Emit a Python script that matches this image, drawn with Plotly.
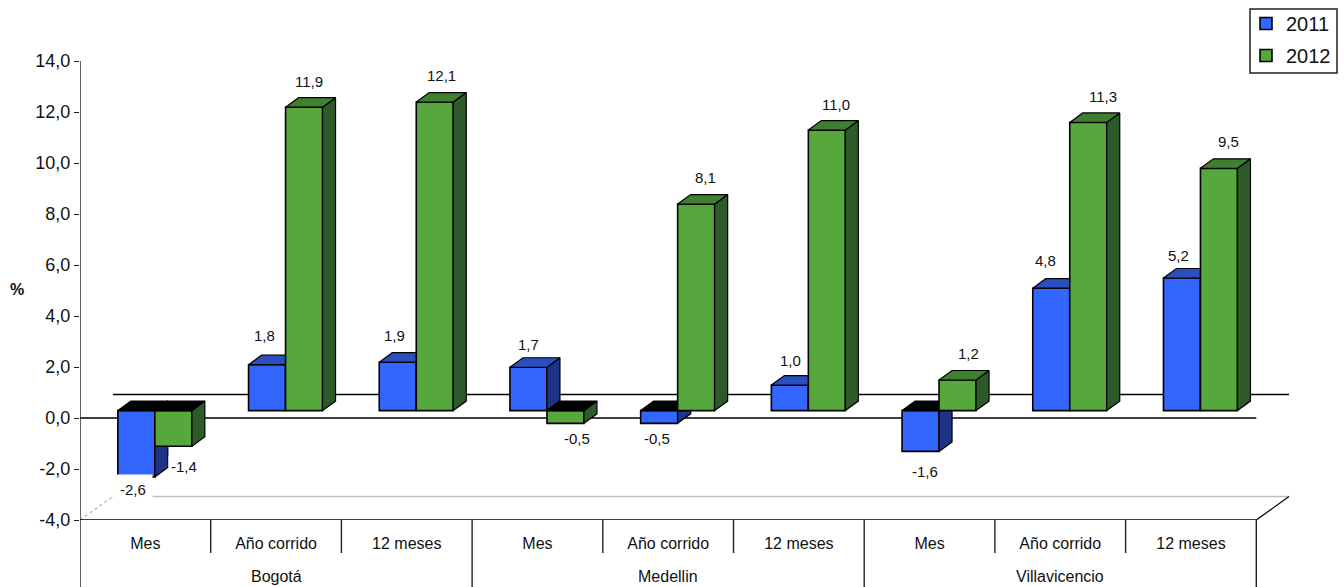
import plotly.graph_objects as go

cities = ["Bogotá", "Medellin", "Villavicencio"]
periods = ["Mes", "Año corrido", "12 meses"]
values_2011 = [-2.6, 1.8, 1.9, 1.7, -0.5, 1.0, -1.6, 4.8, 5.2]
values_2012 = [-1.4, 11.9, 12.1, -0.5, 8.1, 11.0, 1.2, 11.3, 9.5]
y_ticks = [-4, -2, 0, 2, 4, 6, 8, 10, 12, 14]

# label nudges in pixels from the top centre of each bar
dx_2011 = [-3, -3, -3, 0, -2, 1, 4, -6, -3]
dy_2011 = [13, 29, 27, 23, 15, 25, 20, 28, 23]
dx_2012 = [11, 5, 7, 12, 9, 9, 11, 15, 10]
dy_2012 = [20, 26, 27, 15, 27, 26, 27, 26, 27]

# geometry in pixels
L, R, T, BOTTOM, H, W = 80, 1340, 4, 520, 587, 1344
TOP_TICK_PX = 61
WALL_END_PX = 1289
PX = 130.7          # pixels per category
PY = 25.5           # pixels per unit
BAR_W = 37 / PX
SHIFT_X = 9.5 / PX  # front of the bars versus the front of the floor
SHIFT_Y = 7.4 / PY
DEPTH_X = 13 / PX
DEPTH_Y = 9.5 / PY
WALL_X = 33 / PX
WALL_Y = 23.5 / PY
N = len(values_2011)
xr = [0, (R - L) / PX]
yr = [-4, 14 + (TOP_TICK_PX - T) / PY]
wall_end = (WALL_END_PX - L) / PX


def paper_y(px):
    return (BOTTOM - px) / (BOTTOM - T)


def paper_x(px):
    return (px - L) / (R - L)


def series(vals, name, front, top, side, xa, ya, off, dxs, dys):
    xs = [i + 0.5 + SHIFT_X + off for i in range(N)]
    traces = [go.Bar(x=xs, y=vals, base=[SHIFT_Y] * N, width=BAR_W, name=name, legendgroup=name,
                     marker=dict(color=front, line=dict(color="black", width=1.6)),
                     xaxis=xa, yaxis=ya, hoverinfo="skip")]
    tp_x, tp_y, tn_x, tn_y, s_x, s_y = [], [], [], [], [], []
    for x, v in zip(xs, vals):
        a, b = x - BAR_W / 2, x + BAR_W / 2
        base = SHIFT_Y
        end = base + v
        hi = max(base, end)
        tx = [a, b, b + DEPTH_X, a + DEPTH_X, a, None]
        ty = [hi, hi, hi + DEPTH_Y, hi + DEPTH_Y, hi, None]
        if v >= 0:
            tp_x += tx; tp_y += ty
        else:
            tn_x += tx; tn_y += ty
        s_x += [b, b + DEPTH_X, b + DEPTH_X, b, b, None]
        s_y += [hi, hi + DEPTH_Y, min(base, end) + DEPTH_Y, min(base, end), hi, None]
    for px_, py_, col in ((s_x, s_y, side), (tp_x, tp_y, top), (tn_x, tn_y, "black")):
        traces.append(go.Scatter(x=px_, y=py_, mode="lines", fill="toself", fillcolor=col,
                                 line=dict(color="black", width=1.2), xaxis=xa, yaxis=ya,
                                 showlegend=False, hoverinfo="skip"))
    notes = []
    for x, v, dx, dy in zip(xs, vals, dxs, dys):
        end = SHIFT_Y + v
        notes.append(dict(x=x, y=end, xref=xa, yref=ya, text=f"{v:.1f}".replace(".", ","),
                          showarrow=False, xshift=dx, yshift=dy if v >= 0 else -dy,
                          font=dict(size=15, color="#111"), bgcolor="white",
                          borderpad=6 if v < -2 else 2,
                          xanchor="center", yanchor="middle"))
    return traces, notes


fig = go.Figure()
t1, n1 = series(values_2011, "2011", "#3366ff", "#2a4fbf", "#1c3386", "x", "y", -BAR_W / 2, dx_2011, dy_2011)
t2, n2 = series(values_2012, "2012", "#57a83c", "#3f8030", "#2d5a28", "x2", "y2", BAR_W / 2, dx_2012, dy_2012)
fig.add_traces(t1 + t2)

bottom_paper = paper_y(H)
shapes = []
# walls and floor
shapes.append(dict(type="line", xref="x", yref="y", x0=WALL_X, x1=wall_end, y0=WALL_Y, y1=WALL_Y,
                   line=dict(color="black", width=1.4), layer="below"))
shapes.append(dict(type="line", xref="x", yref="y", x0=0, x1=N, y0=0, y1=0,
                   line=dict(color="black", width=1.6), layer="below"))
shapes.append(dict(type="line", xref="x", yref="y", x0=WALL_X, x1=wall_end, y0=-4 + WALL_Y, y1=-4 + WALL_Y,
                   line=dict(color="#c0c0c0", width=1.5), layer="below"))
shapes.append(dict(type="line", xref="x", yref="y", x0=0, x1=WALL_X, y0=-4, y1=-4 + WALL_Y,
                   line=dict(color="#b0b0b0", width=1.2, dash="dot"), layer="below"))
shapes.append(dict(type="line", xref="x", yref="y", x0=N, x1=wall_end, y0=-4, y1=-4 + WALL_Y,
                   line=dict(color="black", width=1.2), layer="below"))
shapes.append(dict(type="line", xref="x", yref="y", x0=0, x1=N, y0=-4, y1=-4,
                   line=dict(color="black", width=1.5), layer="below"))
# value axis line
shapes.append(dict(type="line", xref="x", yref="y", x0=0, x1=0, y0=-4, y1=14,
                   line=dict(color="#222", width=1.4), layer="below"))
# category separators
for i in range(N + 1):
    long_sep = i % 3 == 0
    y_end = bottom_paper if long_sep else paper_y(553)
    shapes.append(dict(type="line", xref="x", yref="paper", x0=i, x1=i, y0=0, y1=y_end,
                       line=dict(color="#222", width=1.4)))
# legend frame
shapes.append(dict(type="rect", xref="paper", yref="paper", x0=paper_x(1250), x1=paper_x(1337),
                   y0=paper_y(73), y1=paper_y(9), line=dict(color="#222", width=1.5), layer="below"))

notes = n1 + n2
for k, c in enumerate(cities):
    notes.append(dict(x=3 * k + 1.5, y=paper_y(576), xref="x", yref="paper", text=c,
                      showarrow=False, xanchor="center", yanchor="middle",
                      font=dict(size=16, color="#111")))
notes.append(dict(x=paper_x(17), y=paper_y(289), xref="paper", yref="paper",
                  text="<b>%</b>", showarrow=False, xanchor="center", yanchor="middle",
                  font=dict(size=16, color="#111")))

fig.update_layout(
    width=W, height=H, autosize=False,
    margin=dict(l=L, r=W - R, t=T, b=H - BOTTOM, pad=0),
    paper_bgcolor="white", plot_bgcolor="white",
    font=dict(family="Liberation Sans, Arial, sans-serif", color="#111"),
    showlegend=True,
    legend=dict(x=paper_x(1246), y=paper_y(9) + 5 / (BOTTOM - T), xanchor="left", yanchor="top",
                borderwidth=0, bgcolor="rgba(0,0,0,0)",
                font=dict(size=20, color="#111"), tracegroupgap=3,
                entrywidth=43, entrywidthmode="pixels"),
    xaxis=dict(range=xr, showgrid=False, zeroline=False, showline=False,
               tickmode="array", tickvals=[i + 0.5 for i in range(N)],
               ticktext=periods * 3, ticks="outside", ticklen=9, tickcolor="rgba(0,0,0,0)",
               tickfont=dict(size=16, color="#111")),
    yaxis=dict(range=yr, showgrid=False, zeroline=False, showline=False,
               tickmode="array", tickvals=y_ticks,
               ticktext=[f"{v:.1f}".replace(".", ",") for v in y_ticks],
               ticks="outside", ticklen=5, tickcolor="#222", tickfont=dict(size=18, color="#111")),
    xaxis2=dict(range=xr, overlaying="x", visible=False),
    yaxis2=dict(range=yr, overlaying="y", visible=False),
    shapes=shapes, annotations=notes,
)
fig.write_html("out.html", config={"displayModeBar": False},
               post_script="document.body.style.margin='0';document.documentElement.style.overflow='hidden';")
